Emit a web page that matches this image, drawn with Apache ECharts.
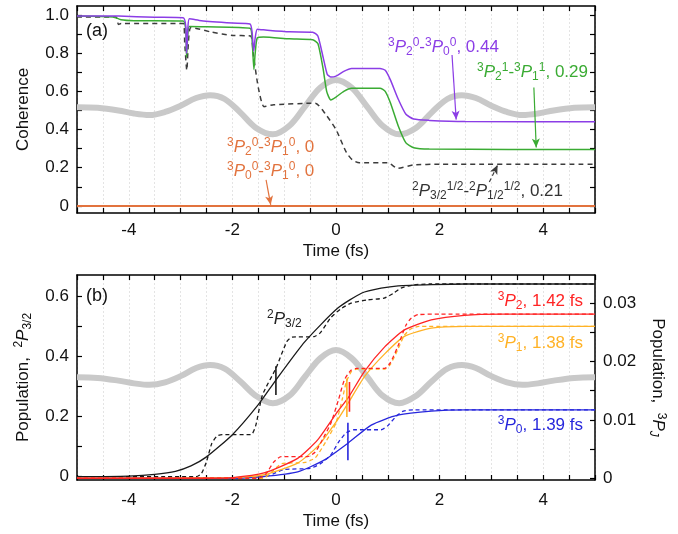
<!DOCTYPE html>
<html>
<head>
<meta charset="utf-8">
<script src="https://cdn.jsdelivr.net/npm/echarts@6/dist/echarts.min.js"></script>
<style>
  html, body { margin: 0; padding: 0; background: #fff; }
  #chart { width: 678px; height: 534px; }
</style>
</head>
<body>
<div id="chart"></div>
<script>
// ---------- data (a) coherence ----------
const purpleT = [-5, -4.2, -3.5, -2.95, -2.9, -2.885, -2.86, -2.83, -2.6, -2.0, -1.66, -1.62, -1.59, -1.56, -1.52, -1.4, -0.9, -0.45, -0.35, -0.25, -0.17, -0.1, 0.0, 0.15, 0.3, 0.85, 0.95, 1.05, 1.2, 1.35, 1.5, 1.8, 2.5, 5];
const purpleV = [0.995, 0.994, 0.988, 0.985, 0.94, 0.80, 0.93, 0.98, 0.97, 0.958, 0.953, 0.91, 0.81, 0.88, 0.925, 0.922, 0.912, 0.91, 0.89, 0.78, 0.69, 0.675, 0.68, 0.705, 0.72, 0.72, 0.71, 0.66, 0.56, 0.48, 0.455, 0.448, 0.442, 0.441];

const greenT = [-5, -4.3, -4.15, -3.9, -2.95, -2.9, -2.885, -2.86, -2.83, -2.5, -1.66, -1.62, -1.585, -1.56, -1.52, -1.4, -0.9, -0.45, -0.35, -0.25, -0.18, -0.1, 0.0, 0.15, 0.3, 0.85, 0.95, 1.05, 1.2, 1.35, 1.5, 1.8, 5];
const greenV = [0.995, 0.99, 0.975, 0.97, 0.968, 0.92, 0.78, 0.90, 0.94, 0.938, 0.93, 0.87, 0.715, 0.80, 0.88, 0.885, 0.875, 0.87, 0.85, 0.72, 0.60, 0.555, 0.57, 0.60, 0.616, 0.616, 0.60, 0.54, 0.42, 0.33, 0.305, 0.298, 0.295];

const dashT = [-5, -4.25, -4.2, -4.15, -2.95, -2.92, -2.88, -2.85, -2.8, -2.4, -2.0, -1.65, -1.6, -1.5, -1.39, -1.2, -0.4, -0.2, 0.0, 0.2, 0.32, 0.45, 1.0, 1.19, 1.5, 2.0, 5];
const dashV = [0.99, 0.99, 0.95, 0.955, 0.955, 0.85, 0.71, 0.85, 0.935, 0.91, 0.893, 0.89, 0.8, 0.62, 0.52, 0.53, 0.538, 0.48, 0.40, 0.28, 0.24, 0.226, 0.226, 0.197, 0.215, 0.218, 0.218];

const zeroT = [-5, 5];
const zeroV = [0, 0];

// laser field (gray), same times for both panels
const fieldT = [-5, -4.6, -4.2, -3.9, -3.6, -3.3, -3.0, -2.7, -2.43, -2.15, -1.85, -1.55, -1.22, -0.9, -0.6, -0.3, 0, 0.3, 0.6, 0.9, 1.22, 1.55, 1.85, 2.15, 2.43, 2.7, 3.0, 3.3, 3.6, 3.9, 4.2, 4.6, 5];
const fieldA = [0.517, 0.514, 0.5, 0.484, 0.476, 0.492, 0.525, 0.565, 0.58, 0.56, 0.49, 0.41, 0.375, 0.42, 0.52, 0.62, 0.66, 0.62, 0.52, 0.42, 0.375, 0.41, 0.49, 0.56, 0.58, 0.565, 0.525, 0.492, 0.476, 0.484, 0.5, 0.514, 0.517];
const fieldB = [0.331, 0.329, 0.32, 0.311, 0.306, 0.314, 0.335, 0.362, 0.372, 0.36, 0.318, 0.27, 0.245, 0.27, 0.333, 0.395, 0.422, 0.395, 0.333, 0.27, 0.245, 0.27, 0.318, 0.36, 0.372, 0.362, 0.335, 0.314, 0.306, 0.311, 0.32, 0.329, 0.331];

// ---------- data (b) populations ----------
const p32T = [-5, -4.5, -4, -3.5, -3.1, -2.8, -2.5, -2.0, -1.5, -1.16, -0.6, 0.03, 0.5, 0.87, 1.2, 1.84, 2.5, 5];
const p32V = [0.0, 0.0005, 0.002, 0.008, 0.018, 0.036, 0.066, 0.14, 0.24, 0.322, 0.45, 0.561, 0.612, 0.628, 0.636, 0.640, 0.642, 0.642];
const p32dT = [-5, -2.7, -2.6, -2.5, -2.4, -2.3, -2.2, -1.64, -1.55, -1.42, -1.16, -0.95, -0.85, -0.42, -0.3, -0.1, 0.1, 0.29, 0.6, 0.93, 1.1, 1.25, 1.5, 1.8, 5];
const p32dV = [0, 0, 0.01, 0.05, 0.11, 0.135, 0.14, 0.14, 0.17, 0.272, 0.361, 0.45, 0.465, 0.467, 0.48, 0.53, 0.56, 0.578, 0.589, 0.595, 0.61, 0.628, 0.639, 0.642, 0.642];

const p2T = [-5, -2.5, -2.0, -1.39, -0.74, -0.35, 0.03, 0.23, 0.55, 0.94, 1.32, 1.84, 2.48, 3.2, 5];
const p2V = [0, 0, 0.0001, 0.0009, 0.0034, 0.0066, 0.0114, 0.0137, 0.0183, 0.0225, 0.0254, 0.0271, 0.0279, 0.0281, 0.0281];
const p2dT = [-5, -1.5, -1.35, -1.2, -1.06, -0.55, -0.4, -0.25, -0.1, 0.05, 0.16, 0.29, 0.4, 0.94, 1.05, 1.19, 1.35, 1.45, 1.58, 2, 5];
const p2dV = [0, 0, 0.0008, 0.0028, 0.0037, 0.0037, 0.0045, 0.0068, 0.0094, 0.0135, 0.0168, 0.0185, 0.0188, 0.0188, 0.0198, 0.0225, 0.0262, 0.0274, 0.028, 0.0281, 0.0281];

const p1T = [-5, -2.0, -1.39, -0.74, -0.35, 0.03, 0.23, 0.55, 0.94, 1.32, 1.84, 2.5, 5];
const p1V = [0, 0.0001, 0.0006, 0.0026, 0.0055, 0.0100, 0.0128, 0.0174, 0.0213, 0.0243, 0.0257, 0.0260, 0.0260];
const p1dT = [-5, -1.4, -1.25, -1.05, -0.6, -0.4, -0.2, 0.0, 0.12, 0.2, 0.3, 0.4, 0.94, 1.05, 1.19, 1.32, 1.45, 1.6, 5];
const p1dV = [0, 0, 0.001, 0.0025, 0.0027, 0.0035, 0.0062, 0.0095, 0.0135, 0.0165, 0.0183, 0.0187, 0.0187, 0.0195, 0.022, 0.0245, 0.0256, 0.026, 0.026];

const p0T = [-5, -2, -1.4, -0.74, -0.23, 0.23, 0.68, 1.19, 1.84, 2.5, 5];
const p0V = [0, 0, 0.0003, 0.0011, 0.0031, 0.006, 0.0091, 0.0108, 0.0115, 0.0117, 0.0117];
const p0dT = [-5, -1.5, -1.2, -1.0, -0.5, -0.3, -0.1, 0.05, 0.2, 0.35, 0.87, 1.0, 1.15, 1.3, 1.5, 5];
const p0dV = [0, 0, 0.0008, 0.0015, 0.0017, 0.0025, 0.004, 0.0062, 0.0078, 0.0083, 0.0083, 0.009, 0.0105, 0.0115, 0.0117, 0.0117];

// error bars [t, low, high]
const barP32 = [-1.16, 0.272, 0.368];
const barP2 = [0.26, 0.0114, 0.0165];
const barP1 = [0.21, 0.0105, 0.0171];
const barP0 = [0.23, 0.0031, 0.0095];

// annotation arrows [x1, y1, x2, y2]
const arrowPurple = [2.24, 0.79, 2.32, 0.452];
const arrowGreen = [3.82, 0.62, 3.865, 0.306];
const arrowDash = [2.96, 0.125, 3.12, 0.214];
const arrowZero = [-1.35, 0.136, -1.26, 0.006];

// ticks
const cohTicks = [0, 0.1, 0.2, 0.3, 0.4, 0.5, 0.6, 0.7, 0.8, 0.9, 1.0];
const cohLabels = [0, 0.2, 0.4, 0.6, 0.8, 1.0];
const popTicks = [0, 0.1, 0.2, 0.3, 0.4, 0.5, 0.6];
const popLabels = [0, 0.2, 0.4, 0.6];
const pjTicks = [0, 0.005, 0.01, 0.015, 0.02, 0.025, 0.03];
const pjLabels = [0, 0.01, 0.02, 0.03];

const FONT = 'Liberation Sans';
const C = {
  purple: '#8b3de6', green: '#3aab33', zero: '#e2733e', dash: '#3c3c3c', field: '#c9c9c9',
  red: '#ff2424', orange: '#ffb226', blue: '#2626dc', black: '#1a1a1a'
};

const pts = (t, v) => t.map((x, i) => [x, v[i]]);

function richSet(color, size) {
  const s = size || 17;
  const base = { fontFamily: FONT, color, fontWeight: 'normal' };
  return {
    n: Object.assign({ fontSize: s, lineHeight: 20 }, base),
    i: Object.assign({ fontSize: s, fontStyle: 'italic', lineHeight: 20 }, base),
    sup: Object.assign({ fontSize: 12, lineHeight: 12, padding: [0, 0, 8, 0] }, base),
    sub: Object.assign({ fontSize: 12, lineHeight: 12, padding: [9, 0, 0, 0] }, base),
    subi: Object.assign({ fontSize: 12, fontStyle: 'italic', lineHeight: 12, padding: [9, 0, 0, 0] }, base)
  };
}

function line(t, v, color, xi, yi, extra) {
  return Object.assign({
    type: 'line', data: pts(t, v), xAxisIndex: xi, yAxisIndex: yi,
    symbol: 'none', smooth: 0.2, silent: true, animation: false,
    lineStyle: { color, width: 1.5 }, z: 3
  }, extra || {});
}

function arrow(a, color, dashed) {
  return {
    silent: true, symbol: ['none', 'arrow'], symbolSize: [6, 9], animation: false,
    label: { show: false },
    lineStyle: { color, width: 1.2, type: dashed ? [4, 3] : 'solid' },
    data: [[{ coord: [a[0], a[1]] }, { coord: [a[2], a[3]] }]]
  };
}

function errBar(b, color, yi) {
  return line([b[0], b[0]], [b[1], b[2]], color, 2, yi, { smooth: false, lineStyle: { color, width: 1.6 }, z: 6 });
}

function xAxes(grid, top) {
  return {
    type: 'value', gridIndex: grid, min: -5, max: 5, interval: 0.5,
    position: top ? 'top' : 'bottom',
    axisLine: { onZero: false, lineStyle: { color: '#000', width: 1.5 } },
    axisTick: { inside: true, length: 5, lineStyle: { color: '#000', width: 1.2 } },
    axisLabel: top ? { show: false } : {
      margin: grid === 0 ? 9 : 12, fontFamily: FONT, fontSize: 17, color: '#111',
      formatter: v => (Math.abs(v % 2) < 1e-9 ? String(v) : '')
    },
    splitLine: top ? { show: false } : { show: true, lineStyle: { color: '#e4e4e4', type: [2, 2], width: 1 } },
    name: top ? '' : 'Time (fs)', nameLocation: 'middle', nameGap: grid === 0 ? 30 : 33,
    nameTextStyle: { fontFamily: FONT, fontSize: 17, color: '#111' }
  };
}

function yAxis(grid, pos, min, max, ticks, labels, fmt, name, nameStyle, extra) {
  return Object.assign({
    type: 'value', gridIndex: grid, position: pos, min, max,
    axisLine: { show: true, onZero: false, lineStyle: { color: '#000', width: 1.5 } },
    axisTick: { show: true, inside: true, length: 5, customValues: ticks, lineStyle: { color: '#000', width: 1.2 } },
    axisLabel: labels ? { customValues: labels, margin: 8, fontFamily: FONT, fontSize: 17, color: '#111', formatter: fmt } : { show: false },
    splitLine: { show: false },
    name: name || '', nameLocation: 'middle',
    nameTextStyle: nameStyle || {}
  }, extra || {});
}

function note(text, color, pos, size) {
  return Object.assign({
    text, padding: 0, itemGap: 0,
    textStyle: { fontWeight: 'normal', rich: richSet(color, size) }
  }, pos);
}

const chart = echarts.init(document.getElementById('chart'), null, { renderer: 'canvas' });

chart.setOption({
  backgroundColor: '#fff',
  animation: false,
  grid: [
    { left: 77, right: 83, top: 6, height: 207 },
    { left: 77, right: 83, top: 275, height: 205 }
  ],
  xAxis: [xAxes(0, false), xAxes(0, true), xAxes(1, false), xAxes(1, true)],
  yAxis: [
    yAxis(0, 'left', -0.037, 1.047, cohTicks, cohLabels, v => (v === 0 ? '0' : v.toFixed(1)),
      'Coherence', { fontFamily: FONT, fontSize: 17, color: '#111' }, { nameGap: 45 }),
    yAxis(0, 'right', -0.037, 1.047, cohTicks, null),
    yAxis(1, 'left', -0.011, 0.672, popTicks, popLabels, v => (v === 0 ? '0' : v.toFixed(1)),
      '{n|Population,  }{sup|2}{i|P}{sub|3/2}', { rich: richSet('#111', 17) }, { nameGap: 44 }),
    yAxis(1, 'right', -0.0003, 0.0348, pjTicks, pjLabels, v => (v === 0 ? '0' : v.toFixed(2)),
      '{n|Population,  }{sup|3}{i|P}{subi|J}', { rich: richSet('#111', 17) }, { nameGap: 48, nameRotate: -90 })
  ],
  title: [
    note('{n|(a)}', '#111', { left: 86, top: 21 }, 18),
    note('{n|(b)}', '#111', { left: 86, top: 286 }, 18),
    note('{sup|3}{i|P}{sub|2}{sup|0}{n|-}{sup|3}{i|P}{sub|0}{sup|0}{n|, 0.44}', C.purple, { left: 388, top: 37 }),
    note('{sup|3}{i|P}{sub|2}{sup|1}{n|-}{sup|3}{i|P}{sub|1}{sup|1}{n|, 0.29}', C.green, { right: 90, top: 62 }),
    note('{sup|2}{i|P}{sub|3/2}{sup|1/2}{n|-}{sup|2}{i|P}{sub|1/2}{sup|1/2}{n|, 0.21}', '#333', { right: 115, top: 181 }),
    note('{sup|3}{i|P}{sub|2}{sup|0}{n|-}{sup|3}{i|P}{sub|1}{sup|0}{n|, 0}', C.zero, { left: 227, top: 137 }),
    note('{sup|3}{i|P}{sub|0}{sup|0}{n|-}{sup|3}{i|P}{sub|1}{sup|0}{n|, 0}', C.zero, { left: 227, top: 161 }),
    note('{sup|2}{i|P}{sub|3/2}', '#222', { left: 267, top: 309 }),
    note('{sup|3}{i|P}{sub|2}{n|, 1.42 fs}', C.red, { right: 95, top: 291 }),
    note('{sup|3}{i|P}{sub|1}{n|, 1.38 fs}', C.orange, { right: 95, top: 333 }),
    note('{sup|3}{i|P}{sub|0}{n|, 1.39 fs}', C.blue, { right: 95, top: 415 })
  ],
  series: [
    // panel (a)
    line(fieldT, fieldA, C.field, 0, 0, { lineStyle: { color: C.field, width: 6 }, smooth: 0.35, z: 1 }),
    line(zeroT, zeroV, C.zero, 0, 0, { smooth: false, lineStyle: { color: C.zero, width: 2 }, markLine: arrow(arrowZero, C.zero) }),
    line(dashT, dashV, C.dash, 0, 0, { lineStyle: { color: C.dash, width: 1.5, type: [5, 4] }, markLine: arrow(arrowDash, C.dash, true) }),
    line(greenT, greenV, C.green, 0, 0, { markLine: arrow(arrowGreen, C.green) }),
    line(purpleT, purpleV, C.purple, 0, 0, { markLine: arrow(arrowPurple, C.purple) }),
    // panel (b)
    line(fieldT, fieldB, C.field, 2, 2, { lineStyle: { color: C.field, width: 6 }, smooth: 0.35, z: 1 }),
    line(p32T, p32V, C.black, 2, 2, { lineStyle: { color: C.black, width: 1.3 } }),
    line(p32dT, p32dV, C.black, 2, 2, { lineStyle: { color: C.black, width: 1.3, type: [4, 3] } }),
    line(p0T, p0V, C.blue, 2, 3, { lineStyle: { color: C.blue, width: 1.3 } }),
    line(p0dT, p0dV, C.blue, 2, 3, { lineStyle: { color: C.blue, width: 1.3, type: [4, 3] } }),
    line(p1T, p1V, C.orange, 2, 3, { lineStyle: { color: C.orange, width: 1.3 } }),
    line(p1dT, p1dV, C.orange, 2, 3, { lineStyle: { color: C.orange, width: 1.3, type: [4, 3] } }),
    line(p2T, p2V, C.red, 2, 3, { lineStyle: { color: C.red, width: 1.3 } }),
    line(p2dT, p2dV, C.red, 2, 3, { lineStyle: { color: C.red, width: 1.3, type: [4, 3] } }),
    errBar(barP32, C.black, 2),
    errBar(barP1, C.orange, 3),
    errBar(barP2, C.red, 3),
    errBar(barP0, C.blue, 3)
  ]
});
</script>
</body>
</html>
